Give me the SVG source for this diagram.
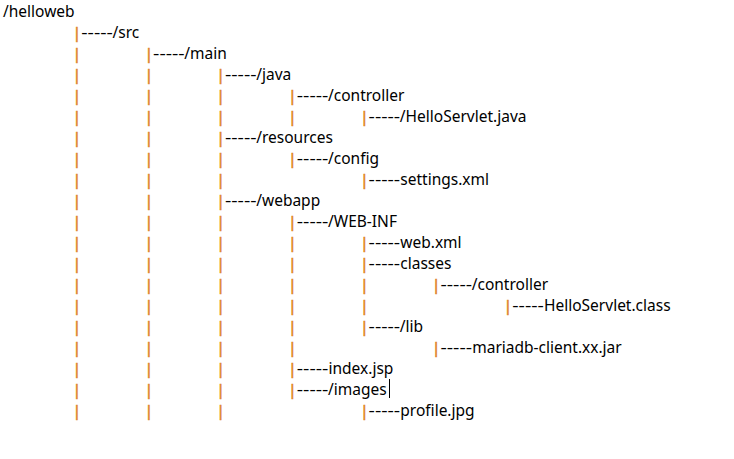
<svg xmlns="http://www.w3.org/2000/svg" width="734" height="459" viewBox="0 0 734 459">
<style>
text{font-family:"Noto Sans","Open Sans","Liberation Sans",sans-serif;font-size:15.5px;fill:#000}
.b{font-size:15px;fill:#E0852A;stroke:#E0852A;stroke-width:0.6px;text-anchor:middle}
.d{text-anchor:start}
.n{text-anchor:start}
</style>
<rect width="734" height="459" fill="#fff"/>
<g id="connectors">
<text class="b" x="77" y="58.7">|</text>
<text class="b" y="79.7"><tspan x="77">|</tspan><tspan x="148.8">|</tspan></text>
<text class="b" y="100.7"><tspan x="77">|</tspan><tspan x="148.8">|</tspan><tspan x="220.7">|</tspan></text>
<text class="b" y="121.7"><tspan x="77">|</tspan><tspan x="148.8">|</tspan><tspan x="220.7">|</tspan><tspan x="292.5">|</tspan></text>
<text class="b" y="142.7"><tspan x="77">|</tspan><tspan x="148.8">|</tspan></text>
<text class="b" y="163.7"><tspan x="77">|</tspan><tspan x="148.8">|</tspan><tspan x="220.7">|</tspan></text>
<text class="b" y="184.7"><tspan x="77">|</tspan><tspan x="148.8">|</tspan><tspan x="220.7">|</tspan></text>
<text class="b" y="205.7"><tspan x="77">|</tspan><tspan x="148.8">|</tspan></text>
<text class="b" y="226.7"><tspan x="77">|</tspan><tspan x="148.8">|</tspan><tspan x="220.7">|</tspan></text>
<text class="b" y="247.7"><tspan x="77">|</tspan><tspan x="148.8">|</tspan><tspan x="220.7">|</tspan><tspan x="292.5">|</tspan></text>
<text class="b" y="268.7"><tspan x="77">|</tspan><tspan x="148.8">|</tspan><tspan x="220.7">|</tspan><tspan x="292.5">|</tspan></text>
<text class="b" y="289.7"><tspan x="77">|</tspan><tspan x="148.8">|</tspan><tspan x="220.7">|</tspan><tspan x="292.5">|</tspan><tspan x="364.3">|</tspan></text>
<text class="b" y="310.7"><tspan x="77">|</tspan><tspan x="148.8">|</tspan><tspan x="220.7">|</tspan><tspan x="292.5">|</tspan><tspan x="364.3">|</tspan></text>
<text class="b" y="331.7"><tspan x="77">|</tspan><tspan x="148.8">|</tspan><tspan x="220.7">|</tspan><tspan x="292.5">|</tspan></text>
<text class="b" y="352.7"><tspan x="77">|</tspan><tspan x="148.8">|</tspan><tspan x="220.7">|</tspan><tspan x="292.5">|</tspan></text>
<text class="b" y="373.7"><tspan x="77">|</tspan><tspan x="148.8">|</tspan><tspan x="220.7">|</tspan></text>
<text class="b" y="394.7"><tspan x="77">|</tspan><tspan x="148.8">|</tspan><tspan x="220.7">|</tspan></text>
<text class="b" y="415.7"><tspan x="77">|</tspan><tspan x="148.8">|</tspan><tspan x="220.7">|</tspan></text>
</g>
<g id="helloweb"><text x="3" y="16.5">/helloweb</text></g>
<g id="src"><text y="38"><tspan class="b" x="77" dy="-0.3">|</tspan><tspan class="d" x="81.3" dy="0.3" textLength="31.5" lengthAdjust="spacingAndGlyphs">-----</tspan><tspan class="n" x="112.5">/src</tspan></text></g>
<g id="main"><text y="59"><tspan class="b" x="148.8" dy="-0.3">|</tspan><tspan class="d" x="153.1" dy="0.3" textLength="31.5" lengthAdjust="spacingAndGlyphs">-----</tspan><tspan class="n" x="184.3">/main</tspan></text></g>
<g id="java"><text y="80"><tspan class="b" x="220.7" dy="-0.3">|</tspan><tspan class="d" x="225" dy="0.3" textLength="31.5" lengthAdjust="spacingAndGlyphs">-----</tspan><tspan class="n" x="256.2">/java</tspan></text></g>
<g id="controller"><text y="101"><tspan class="b" x="292.5" dy="-0.3">|</tspan><tspan class="d" x="296.8" dy="0.3" textLength="31.5" lengthAdjust="spacingAndGlyphs">-----</tspan><tspan class="n" x="328">/controller</tspan></text></g>
<g id="helloservlet-java"><text y="122"><tspan class="b" x="364.3" dy="-0.3">|</tspan><tspan class="d" x="368.6" dy="0.3" textLength="31.5" lengthAdjust="spacingAndGlyphs">-----</tspan><tspan class="n" x="399.8">/HelloServlet.java</tspan></text></g>
<g id="resources"><text y="143"><tspan class="b" x="220.7" dy="-0.3">|</tspan><tspan class="d" x="225" dy="0.3" textLength="31.5" lengthAdjust="spacingAndGlyphs">-----</tspan><tspan class="n" x="256.2">/resources</tspan></text></g>
<g id="config"><text y="164"><tspan class="b" x="292.5" dy="-0.3">|</tspan><tspan class="d" x="296.8" dy="0.3" textLength="31.5" lengthAdjust="spacingAndGlyphs">-----</tspan><tspan class="n" x="328">/config</tspan></text></g>
<g id="settings-xml"><text y="185"><tspan class="b" x="364.3" dy="-0.3">|</tspan><tspan class="d" x="368.6" dy="0.3" textLength="31.5" lengthAdjust="spacingAndGlyphs">-----</tspan><tspan class="n" x="400.3">settings.xml</tspan></text></g>
<g id="webapp"><text y="206"><tspan class="b" x="220.7" dy="-0.3">|</tspan><tspan class="d" x="225" dy="0.3" textLength="31.5" lengthAdjust="spacingAndGlyphs">-----</tspan><tspan class="n" x="256.2">/webapp</tspan></text></g>
<g id="web-inf"><text y="227"><tspan class="b" x="292.5" dy="-0.3">|</tspan><tspan class="d" x="296.8" dy="0.3" textLength="31.5" lengthAdjust="spacingAndGlyphs">-----</tspan><tspan class="n" x="328">/WEB-INF</tspan></text></g>
<g id="web-xml"><text y="248"><tspan class="b" x="364.3" dy="-0.3">|</tspan><tspan class="d" x="368.6" dy="0.3" textLength="31.5" lengthAdjust="spacingAndGlyphs">-----</tspan><tspan class="n" x="400.3">web.xml</tspan></text></g>
<g id="classes"><text y="269"><tspan class="b" x="364.3" dy="-0.3">|</tspan><tspan class="d" x="368.6" dy="0.3" textLength="31.5" lengthAdjust="spacingAndGlyphs">-----</tspan><tspan class="n" x="400.3">classes</tspan></text></g>
<g id="controller-2"><text y="290"><tspan class="b" x="436.2" dy="-0.3">|</tspan><tspan class="d" x="440.5" dy="0.3" textLength="31.5" lengthAdjust="spacingAndGlyphs">-----</tspan><tspan class="n" x="471.7">/controller</tspan></text></g>
<g id="helloservlet-class"><text y="311"><tspan class="b" x="508" dy="-0.3">|</tspan><tspan class="d" x="512.3" dy="0.3" textLength="31.5" lengthAdjust="spacingAndGlyphs">-----</tspan><tspan class="n" x="544">HelloServlet.class</tspan></text></g>
<g id="lib"><text y="332"><tspan class="b" x="364.3" dy="-0.3">|</tspan><tspan class="d" x="368.6" dy="0.3" textLength="31.5" lengthAdjust="spacingAndGlyphs">-----</tspan><tspan class="n" x="399.8">/lib</tspan></text></g>
<g id="mariadb"><text y="353"><tspan class="b" x="436.2" dy="-0.3">|</tspan><tspan class="d" x="440.5" dy="0.3" textLength="31.5" lengthAdjust="spacingAndGlyphs">-----</tspan><tspan class="n" x="472.2">mariadb-client.xx.jar</tspan></text></g>
<g id="index-jsp"><text y="374"><tspan class="b" x="292.5" dy="-0.3">|</tspan><tspan class="d" x="296.8" dy="0.3" textLength="31.5" lengthAdjust="spacingAndGlyphs">-----</tspan><tspan class="n" x="328.5">index.jsp</tspan></text></g>
<g id="images"><text y="395"><tspan class="b" x="292.5" dy="-0.3">|</tspan><tspan class="d" x="296.8" dy="0.3" textLength="31.5" lengthAdjust="spacingAndGlyphs">-----</tspan><tspan class="n" x="328">/images</tspan></text><line x1="389.5" y1="379" x2="389.5" y2="398" stroke="#000" stroke-width="1"/></g>
<g id="profile-jpg"><text y="416"><tspan class="b" x="364.3" dy="-0.3">|</tspan><tspan class="d" x="368.6" dy="0.3" textLength="31.5" lengthAdjust="spacingAndGlyphs">-----</tspan><tspan class="n" x="400.3">profile.jpg</tspan></text></g>
</svg>
